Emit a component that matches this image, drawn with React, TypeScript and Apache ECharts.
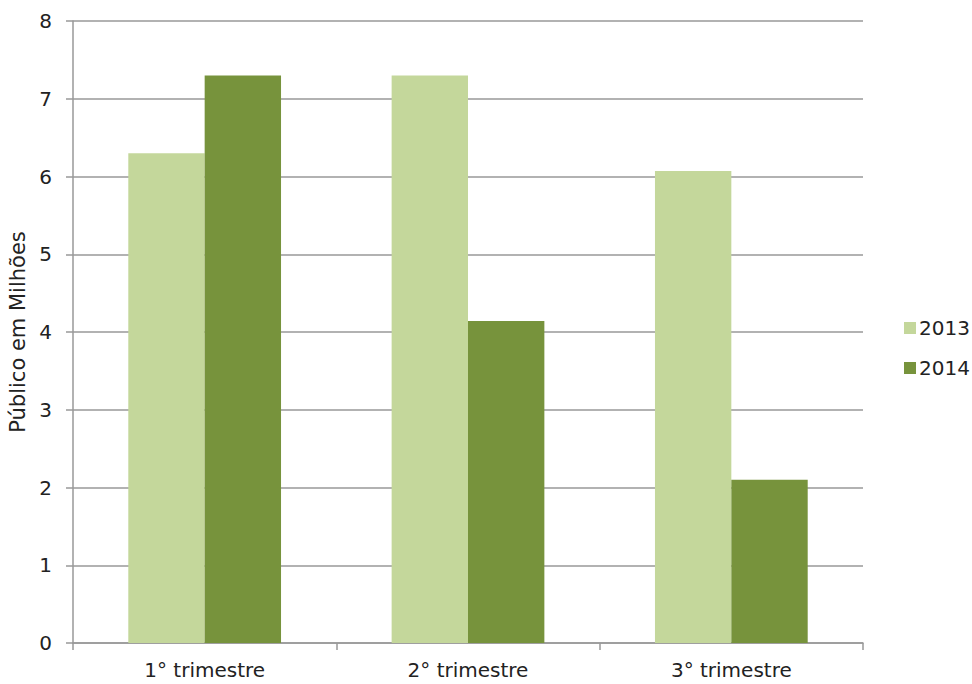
import React, { useEffect, useRef } from "react";
import * as echarts from "echarts";

const categories = ["1° trimestre", "2° trimestre", "3° trimestre"];
const series2013 = [6.3, 7.3, 6.07];
const series2014 = [7.3, 4.14, 2.1];
const seriesNames = ["2013", "2014"];

const FONT = "'DejaVu Sans', sans-serif";

export default function App() {
  const ref = useRef<HTMLDivElement>(null);
  useEffect(() => {
    if (!ref.current) return;
    const chart = echarts.init(ref.current, undefined, { renderer: "svg" });
    chart.setOption({
      animation: false,
      textStyle: { fontFamily: FONT },
      grid: { left: 73, right: 109, top: 21, bottom: 41, containLabel: false, outerBoundsMode: "none" },
      legend: {
        orient: "vertical",
        left: 899,
        top: 313,
        itemWidth: 12,
        itemHeight: 12,
        itemGap: 20,
        icon: "rect",
        textStyle: { fontSize: 20, color: "#222", fontFamily: FONT, padding: [0, 0, 0, -2] },
        data: seriesNames,
      },
      xAxis: {
        type: "category",
        data: categories,
        axisLine: { lineStyle: { color: "#999", width: 1.5 } },
        axisTick: { show: true, length: 7, lineStyle: { color: "#999", width: 1.5 } },
        axisLabel: { fontSize: 20, color: "#222", margin: 17, fontFamily: FONT },
      },
      yAxis: {
        type: "value",
        min: 0,
        max: 8,
        interval: 1,
        name: "Público em Milhões",
        nameLocation: "middle",
        nameGap: 45,
        nameRotate: 90,
        nameTextStyle: { fontSize: 21, color: "#222", fontFamily: FONT },
        axisLine: { show: true, lineStyle: { color: "#999", width: 1.5 } },
        axisTick: { show: true, length: 7, lineStyle: { color: "#999", width: 1.5 } },
        axisLabel: { fontSize: 20, color: "#222", margin: 21, fontFamily: FONT },
        splitLine: { lineStyle: { color: "#999", width: 1.5 } },
      },
      series: [
        {
          name: seriesNames[0],
          type: "bar",
          data: series2013,
          itemStyle: { color: "#C4D79B" },
          barGap: "0%",
          barCategoryGap: "42%",
        },
        {
          name: seriesNames[1],
          type: "bar",
          data: series2014,
          itemStyle: { color: "#77933C" },
          barGap: "0%",
          barCategoryGap: "42%",
        },
      ],
    });
    return () => chart.dispose();
  }, []);
  return <div ref={ref} style={{ width: 972, height: 684, position: "absolute", left: 0, top: 0 }} />;
}
